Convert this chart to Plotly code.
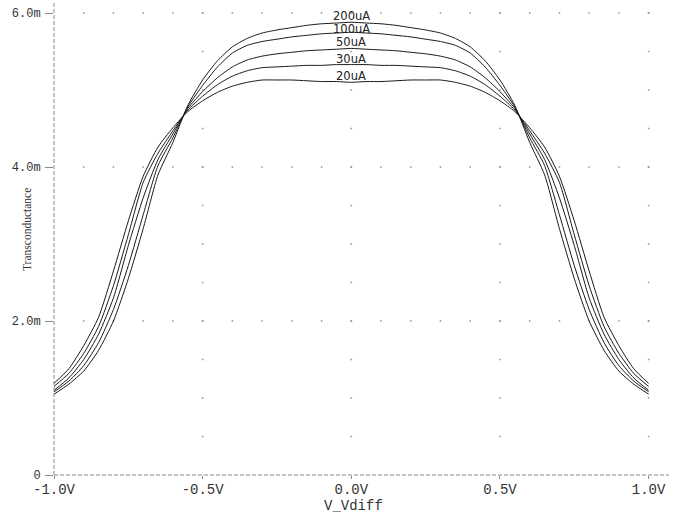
import numpy as np
import plotly.graph_objects as go

# ---- data ----
v_left = [-1.00, -0.95, -0.90, -0.85, -0.80, -0.75, -0.70, -0.65, -0.60, -0.55, -0.50,
          -0.45, -0.40, -0.35, -0.30, -0.25, -0.20, -0.15, -0.10, -0.05, 0.00]
v_right = [0.05, 0.10, 0.15, 0.20, 0.25, 0.30, 0.35, 0.40, 0.45, 0.50,
           0.55, 0.60, 0.65, 0.70, 0.75, 0.80, 0.85, 0.90, 0.95, 1.00]
vdiff = v_left + v_right

gm_200uA = [1.05, 1.18, 1.35, 1.62, 2.00, 2.55, 3.20, 3.90, 4.32, 4.80, 5.13,
            5.38, 5.56, 5.67, 5.74, 5.78, 5.81, 5.84, 5.86, 5.87, 5.88,
            5.87, 5.86, 5.84, 5.81, 5.78, 5.74, 5.67, 5.56, 5.38, 5.13,
            4.80, 4.32, 3.90, 3.20, 2.55, 2.00, 1.62, 1.35, 1.18, 1.05]
gm_100uA = [1.08, 1.22, 1.42, 1.72, 2.15, 2.72, 3.38, 4.02, 4.38, 4.78, 5.06,
            5.30, 5.48, 5.58, 5.63, 5.66, 5.69, 5.71, 5.73, 5.74, 5.75,
            5.74, 5.73, 5.71, 5.69, 5.66, 5.63, 5.58, 5.48, 5.30, 5.06,
            4.78, 4.38, 4.02, 3.38, 2.72, 2.15, 1.72, 1.42, 1.22, 1.08]
gm_50uA = [1.10, 1.26, 1.50, 1.83, 2.30, 2.98, 3.60, 4.10, 4.43, 4.76, 4.98,
           5.16, 5.30, 5.39, 5.44, 5.47, 5.49, 5.51, 5.52, 5.53, 5.54,
           5.53, 5.52, 5.51, 5.49, 5.47, 5.44, 5.39, 5.30, 5.16, 4.98,
           4.76, 4.43, 4.10, 3.60, 2.98, 2.30, 1.83, 1.50, 1.26, 1.10]
gm_30uA = [1.15, 1.32, 1.58, 1.93, 2.46, 3.12, 3.80, 4.18, 4.47, 4.74, 4.92,
           5.07, 5.18, 5.25, 5.29, 5.30, 5.31, 5.32, 5.32, 5.33, 5.33,
           5.33, 5.32, 5.32, 5.31, 5.30, 5.29, 5.25, 5.18, 5.07, 4.92,
           4.74, 4.47, 4.18, 3.80, 3.12, 2.46, 1.93, 1.58, 1.32, 1.15]
gm_20uA = [1.19, 1.38, 1.68, 2.05, 2.65, 3.30, 3.88, 4.26, 4.51, 4.72, 4.86,
           4.97, 5.05, 5.10, 5.13, 5.13, 5.13, 5.12, 5.11, 5.11, 5.10,
           5.11, 5.11, 5.12, 5.13, 5.13, 5.13, 5.10, 5.05, 4.97, 4.86,
           4.72, 4.51, 4.26, 3.88, 3.30, 2.65, 2.05, 1.68, 1.38, 1.19]

series_names = ["200uA", "100uA", "50uA", "30uA", "20uA"]
series_values = [gm_200uA, gm_100uA, gm_50uA, gm_30uA, gm_20uA]

x_tickvals = [-1.0, -0.5, 0.0, 0.5, 1.0]
x_ticktext = ["-1.0V", "-0.5V", "0.0V", "0.5V", "1.0V"]
y_tickvals = [0, 2, 4, 6]
y_ticktext = ["0", "2.0m", "4.0m", "6.0m"]

# label pixel nudges (style, not data)
label_shift = [-3, -6, -3, -3, -3]

# ---- figure ----
GRID = "#9a9a9a"
AXC = "#8a8a8a"
TXT = "#333333"
MONO = "Liberation Mono, Courier New, monospace"

fig = go.Figure()

# dotted grid (PSpice style): dots along major gridlines
gx_rows = np.round(np.arange(-0.9, 1.0001, 0.1), 3)
gy_rows = [2.0, 4.0, 6.0]
gx_cols = [-0.5, 0.0, 0.5, 1.0]
gy_cols = np.round(np.arange(0.5, 6.0001, 0.5), 3)
dots_x = [x for y in gy_rows for x in gx_rows] + [x for x in gx_cols for y in gy_cols]
dots_y = [y for y in gy_rows for x in gx_rows] + [y for x in gx_cols for y in gy_cols]
fig.add_trace(go.Scatter(x=dots_x, y=dots_y, mode="markers",
                         marker=dict(symbol="square", size=1.6, color=GRID,
                                     line=dict(width=0)),
                         hoverinfo="skip", showlegend=False))

for name, vals, ys in zip(series_names, series_values, label_shift):
    fig.add_trace(go.Scatter(x=vdiff, y=vals, mode="lines", name=name,
                             line=dict(color="#1a1a1a", width=1,
                                       shape="spline", smoothing=0.6),
                             showlegend=False))
    fig.add_annotation(x=0.0, y=vals[v_left.index(0.00)], text=name,
                       showarrow=False, xanchor="center", yanchor="bottom",
                       yshift=ys,
                       font=dict(family="DejaVu Sans, sans-serif", size=11.5,
                                 color="#222222"))

# dashed axes
fig.add_shape(type="line", xref="paper", yref="paper", x0=0, x1=1, y0=0, y1=0,
              line=dict(color=AXC, width=1, dash="4px,2px"))
fig.add_shape(type="line", xref="paper", yref="paper", x0=0, x1=0, y0=0, y1=1,
              line=dict(color=AXC, width=1, dash="4px,2px"))

fig.add_annotation(xref="paper", yref="paper", x=(353 - 54) / 615, y=-31 / 472,
                   text="V_Vdiff", showarrow=False, xanchor="center",
                   yanchor="middle", font=dict(family=MONO, size=14, color=TXT))
fig.add_annotation(xref="paper", yref="paper", x=-27 / 615, y=(475 - 230) / 472,
                   text="Transconductance", showarrow=False, textangle=-90,
                   xanchor="center", yanchor="middle",
                   font=dict(family="Liberation Serif, Times New Roman, serif",
                             size=11.5, color=TXT))

fig.update_layout(
    width=689, height=516,
    margin=dict(l=54, r=20, t=3, b=41),
    paper_bgcolor="white", plot_bgcolor="white",
    showlegend=False,
    xaxis=dict(range=[-1.0, 1.0686], tickvals=x_tickvals, ticktext=x_ticktext,
               showgrid=False, zeroline=False, showline=False,
               ticks="outside", ticklen=3, tickcolor=AXC, tickwidth=1,
               ticklabelstandoff=-2,
               tickfont=dict(family=MONO, size=14, color=TXT)),
    yaxis=dict(range=[0, 6.13], tickvals=y_tickvals, ticktext=y_ticktext,
               showgrid=False, zeroline=False, showline=False,
               ticks="outside", ticklen=8, tickcolor=AXC, tickwidth=1,
               ticklabelstandoff=2,
               tickfont=dict(family=MONO, size=12, color=TXT)),
)

fig.write_html("out.html", config={"displayModeBar": False},
               post_script="document.body.style.margin='0';document.body.style.padding='0';")
